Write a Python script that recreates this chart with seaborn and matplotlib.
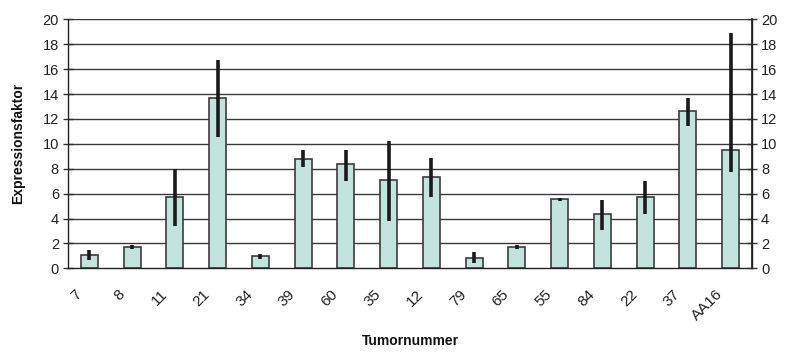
import matplotlib
matplotlib.use("Agg")
import matplotlib.pyplot as plt
import matplotlib.transforms as mtransforms
import seaborn as sns
import numpy as np
import pandas as pd

categories = ["7", "8", "11", "21", "34", "39", "60", "35", "12", "79", "65", "55", "84", "22", "37", "AA16"]
values = [1.07, 1.71, 5.76, 13.68, 0.96, 8.75, 8.35, 7.07, 7.36, 0.86, 1.71, 5.54, 4.39, 5.76, 12.61, 9.48]
err_low = [0.40, 0.18, 2.33, 3.10, 0.19, 0.65, 1.30, 3.24, 1.60, 0.46, 0.15, 0.10, 1.31, 1.37, 1.18, 1.72]
err_high = [0.40, 0.18, 2.22, 3.05, 0.19, 0.73, 1.13, 3.13, 1.48, 0.48, 0.15, 0.10, 1.13, 1.25, 1.04, 9.40]
yticks = [0, 2, 4, 6, 8, 10, 12, 14, 16, 18, 20]

sns.set_theme(style="white")
plt.rcParams['font.family'] = ['Liberation Sans', 'DejaVu Sans']

df = pd.DataFrame({"Tumornummer": categories, "Expressionsfaktor": values})

fig = plt.figure(figsize=(7.85, 3.56), dpi=100)
ax = fig.add_axes([68/785, 1 - 268.3/356, (752-68)/785, (268.3-19.3)/356])

grid_color = "#3a3a3a"
for t in yticks[1:]:
    ax.axhline(t, color=grid_color, lw=1.0, zorder=0)

sns.barplot(data=df, x="Tumornummer", y="Expressionsfaktor", ax=ax,
            color="#c3e3df", saturation=1, width=0.4,
            edgecolor="#3c3c3c", linewidth=1.2, errorbar=None, zorder=2)
ax.errorbar(np.arange(len(categories)), values, yerr=[err_low, err_high],
            fmt="none", ecolor="#1a1a1a", elinewidth=2.6, capsize=0, zorder=3)

ax.set_xlim(-0.5, len(categories) - 0.5)
ax.set_ylim(0, 20)
ax.set_yticks(yticks)
ax.set_yticklabels([str(t) for t in yticks], fontsize=10.5, color="#222222")
ax.tick_params(axis="y", direction="inout", length=7, width=1, color="#333333", pad=3)

ax.set_xticks(np.arange(len(categories)))
ax.set_xticks(np.arange(-0.5, len(categories)), minor=True)
ax.tick_params(axis="x", which="major", length=0, pad=0)
ax.tick_params(axis="x", which="minor", direction="out", length=5, width=1, color="#333333")
labels = ax.set_xticklabels(categories, rotation=45, ha="right", va="center",
                            rotation_mode="anchor", fontsize=11, color="#222222")
offset = mtransforms.ScaledTranslation(-10/100, -24/100, fig.dpi_scale_trans)
for lab in labels:
    lab.set_transform(lab.get_transform() + offset)

for side in ["left", "right", "bottom"]:
    ax.spines[side].set_visible(True)
    ax.spines[side].set_color("#222222")
    ax.spines[side].set_linewidth(1.0)
ax.spines["top"].set_visible(False)

ax.set_xlabel("Tumornummer", fontsize=10, fontweight="bold", color="#111111")
ax.xaxis.set_label_coords(0.5, -0.265)
ax.set_ylabel("Expressionsfaktor", fontsize=10, fontweight="bold", color="#111111")
ax.yaxis.set_label_coords(-0.0629, 0.5)

ax2 = ax.twinx()
ax2.set_ylim(0, 20)
ax2.set_yticks(yticks)
ax2.set_yticklabels([str(t) for t in yticks], fontsize=10.5, color="#222222")
ax2.tick_params(axis="y", direction="inout", length=7, width=1, color="#333333", pad=3)
for s in ax2.spines.values():
    s.set_visible(False)
ax2.spines["right"].set_visible(True)
ax2.spines["right"].set_color("#222222")

fig.savefig("out.png", dpi=100)
